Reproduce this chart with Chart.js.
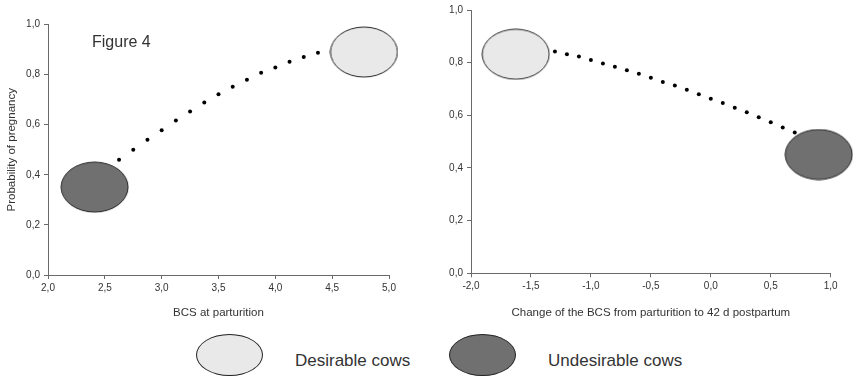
<!DOCTYPE html>
<html>
<head>
<meta charset="utf-8">
<script src="https://cdn.jsdelivr.net/npm/chart.js@4/dist/chart.umd.min.js"></script>
<style>
  html, body { margin: 0; padding: 0; background: #fff; }
  body { width: 859px; height: 380px; position: relative; overflow: hidden;
         font-family: "Liberation Sans", Arial, sans-serif; color: #222; }
  .cv { position: absolute; top: 0; }
  #figlabel { position: absolute; left: 92px; top: 34px; font-size: 16px; line-height: 16px; color: #333; }
  .leg-ell { position: absolute; width: 67px; height: 42px; border: 1px solid #222; border-radius: 50%; box-sizing: border-box; }
  .leg-txt { position: absolute; font-size: 17px; line-height: 17px; color: #333; white-space: nowrap; }
</style>
</head>
<body>
<canvas id="c1" class="cv" style="left:0px" width="430" height="320"></canvas>
<canvas id="c2" class="cv" style="left:430px" width="429" height="320"></canvas>
<div id="figlabel">Figure 4</div>
<div class="leg-ell" style="left:196px; top:334px; background:#e9e9e9"></div>
<div class="leg-txt" style="left:295px; top:352px">Desirable cows</div>
<div class="leg-ell" style="left:449px; top:334px; background:#707070"></div>
<div class="leg-txt" style="left:548px; top:352px">Undesirable cows</div>
<script>
// ---- Data ----
const bcsParturition = [2.625, 2.75, 2.875, 3.0, 3.125, 3.25, 3.375, 3.5, 3.625, 3.75, 3.875, 4.0, 4.125, 4.25, 4.375];
const probPregnancy1 = [0.46, 0.50, 0.54, 0.578, 0.617, 0.653, 0.689, 0.722, 0.751, 0.779, 0.807, 0.828, 0.851, 0.870, 0.887];

const bcsChange = [-1.3, -1.2, -1.1, -1.0, -0.9, -0.8, -0.7, -0.6, -0.5, -0.4, -0.3, -0.2, -0.1, 0.0, 0.1, 0.2, 0.3, 0.4, 0.5, 0.6, 0.7];
const probPregnancy2 = [0.842, 0.832, 0.823, 0.810, 0.797, 0.784, 0.771, 0.758, 0.743, 0.727, 0.713, 0.697, 0.680, 0.663, 0.647, 0.629, 0.612, 0.593, 0.574, 0.554, 0.535];

// group markers (ellipse centres)
const desirable1 = { x: 4.78, y: 0.89 };
const undesirable1 = { x: 2.41, y: 0.351 };
const desirable2 = { x: -1.627, y: 0.832 };
const undesirable2 = { x: 0.90, y: 0.451 };

const xTicks1 = [2.0, 2.5, 3.0, 3.5, 4.0, 4.5, 5.0];
const xTicks2 = [-2.0, -1.5, -1.0, -0.5, 0.0, 0.5, 1.0];
const yTicks = [0.0, 0.2, 0.4, 0.6, 0.8, 1.0];

const xTitle1 = "BCS at parturition";
const xTitle2 = "Change of the BCS from parturition to 42 d postpartum";
const yTitle1 = "Probability of pregnancy";

// ---- Styling helpers ----
const FONT = '"Liberation Sans", Arial, sans-serif';
const AXIS = '#6a6a6a';
const TXT = '#333';

function ellipseImage(fill) {
  const w = 69, h = 52;
  const c = document.createElement('canvas');
  c.width = w; c.height = h;
  const g = c.getContext('2d');
  g.beginPath();
  g.ellipse(w / 2, h / 2, w / 2 - 1, h / 2 - 1, 0, 0, Math.PI * 2);
  g.fillStyle = fill;
  g.fill();
  g.lineWidth = 1;
  g.strokeStyle = '#222';
  g.stroke();
  return c;
}
const lightEll = ellipseImage('#e9e9e9');
const darkEll = ellipseImage('#707070');

const fmt = v => v.toFixed(1).replace('.', ',');

function makeChart(id, opts) {
  const ctx = document.getElementById(id);
  return new Chart(ctx, {
    type: 'scatter',
    data: {
      datasets: [
        { data: opts.xs.map((x, i) => ({ x, y: opts.ys[i] })), pointRadius: 2, pointBackgroundColor: '#000',
          pointBorderWidth: 0, showLine: false, clip: false },
        { data: [opts.light], pointStyle: lightEll, clip: false, pointRadius: 2 },
        { data: [opts.dark], pointStyle: darkEll, clip: false, pointRadius: 2 }
      ]
    },
    options: {
      responsive: false,
      animation: false,
      events: [],
      layout: { autoPadding: false, padding: { top: opts.padTop, right: opts.padRight, left: 0, bottom: 0 } },
      plugins: { legend: { display: false }, tooltip: { enabled: false } },
      scales: {
        x: {
          type: 'linear', min: opts.xTicks[0], max: opts.xTicks[opts.xTicks.length - 1],
          afterBuildTicks: s => { s.ticks = opts.xTicks.map(v => ({ value: v })); },
          afterFit: s => { s.height = opts.xH; },
          ticks: { callback: v => fmt(v), font: { family: FONT, size: 10 }, color: TXT, padding: 3, maxRotation: 0 },
          grid: { drawOnChartArea: false, drawTicks: true, tickLength: 4, color: AXIS, tickColor: AXIS },
          border: { display: true, color: AXIS, width: 1 },
          title: { display: true, text: opts.xTitle, font: { family: FONT, size: 11.5 }, color: TXT, padding: { top: 3, bottom: 0 } }
        },
        y: {
          type: 'linear', min: 0, max: 1,
          afterBuildTicks: s => { s.ticks = yTicks.map(v => ({ value: v })); },
          afterFit: s => { s.width = opts.yW; },
          ticks: { callback: v => fmt(v), font: { family: FONT, size: 10 }, color: TXT, padding: 4 },
          grid: { drawOnChartArea: false, drawTicks: true, tickLength: 4, color: AXIS, tickColor: AXIS },
          border: { display: true, color: AXIS, width: 1 },
          title: { display: !!opts.yTitle, text: opts.yTitle || '', font: { family: FONT, size: 11.5 }, color: TXT, padding: { top: 5, bottom: 0 } }
        }
      }
    }
  });
}

makeChart('c1', {
  xs: bcsParturition, ys: probPregnancy1, light: desirable1, dark: undesirable1,
  xTicks: xTicks1, xTitle: xTitle1, yTitle: yTitle1,
  padTop: 24.5, padRight: 41, xH: 45, yW: 48
});
makeChart('c2', {
  xs: bcsChange, ys: probPregnancy2, light: desirable2, dark: undesirable2,
  xTicks: xTicks2, xTitle: xTitle2, yTitle: null,
  padTop: 7.3, padRight: 28.3, xH: 46.7, yW: 41
});
</script>
</body>
</html>
